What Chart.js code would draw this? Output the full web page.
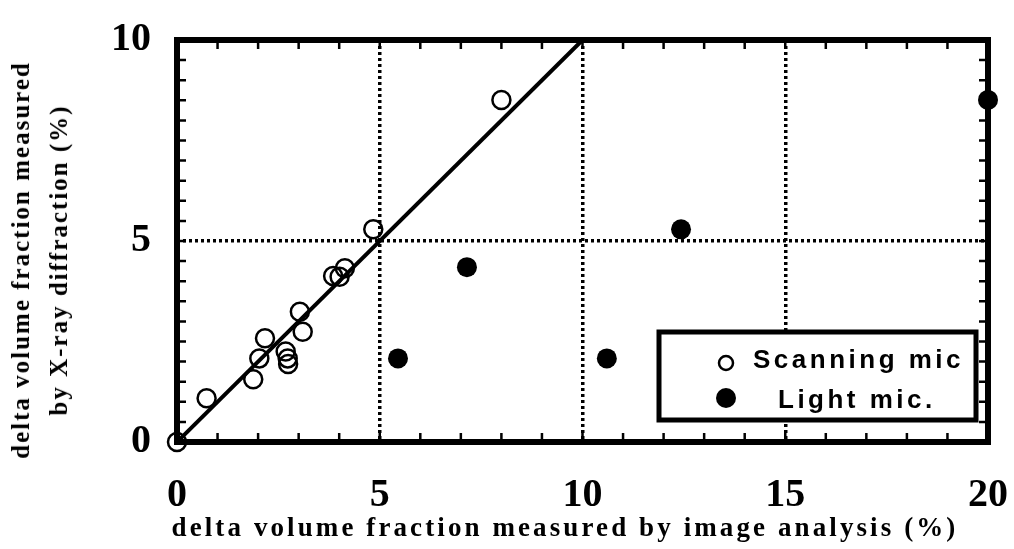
<!DOCTYPE html>
<html>
<head>
<meta charset="utf-8">
<script src="https://cdn.jsdelivr.net/npm/chart.js@4.4.0/dist/chart.umd.min.js"></script>
<style>
  html, body { margin: 0; padding: 0; background: #fff; }
  #wrap { position: relative; width: 1014px; height: 549px; }
  #chart { position: absolute; left: 0; top: 0; }
  .ttl { position: absolute; font-family: "Liberation Serif", serif; font-weight: bold; color: #000; white-space: nowrap; }
  #xTitle { left: 565px; top: 510px; transform: translateX(-50%); font-size: 27px; letter-spacing: 3.1px; line-height: 34px; }
  #yTitle { left: 40px; top: 260px; width: 0; height: 0; }
  #yTitle div { position: absolute; transform: translate(-50%, -50%) rotate(-90deg); font-size: 25px; letter-spacing: 2px; line-height: 38px; text-align: center; }
</style>
</head>
<body>
<div id="wrap">
  <canvas id="chart" width="1014" height="549"></canvas>
  <div class="ttl" id="yTitle"><div>delta volume fraction measured<br>by X-ray diffraction (%)</div></div>
  <div class="ttl" id="xTitle">delta volume fraction measured by image analysis (%)</div>
</div>
<script>
// values
var scanX = [0, 0.73, 1.88, 2.03, 2.17, 2.68, 2.73, 2.74, 3.03, 3.10, 3.85, 4.01, 4.14, 4.84, 8.0];
var scanY = [0, 1.09, 1.56, 2.08, 2.58, 2.25, 2.08, 1.94, 3.24, 2.74, 4.13, 4.11, 4.32, 5.29, 8.51];
var lightX = [5.45, 7.15, 10.6, 12.43, 20];
var lightY = [2.08, 4.35, 2.08, 5.29, 8.51];
var fitX = [0, 10];
var fitY = [0, 10];
var xTicks = [0, 5, 10, 15, 20];
var yTicks = [0, 5, 10];

function pts(xs, ys) {
    return xs.map(function (x, i) { return { x: x, y: ys[i] }; });
}

// thick frame + inward minor ticks, drawn under the markers
var framePlugin = {
    id: 'frame',
    beforeDatasetsDraw: function (chart) {
        var ctx = chart.ctx, a = chart.chartArea;
        var xs = chart.scales.x, ys = chart.scales.y;
        ctx.save();
        ctx.strokeStyle = '#000';
        ctx.lineWidth = 2.5;
        ctx.beginPath();
        for (var v = 0; v <= 10; v += 0.5) {
            var py = ys.getPixelForValue(v);
            ctx.moveTo(a.left, py); ctx.lineTo(a.left + 9, py);
            ctx.moveTo(a.right, py); ctx.lineTo(a.right - 9, py);
        }
        for (var u = 0; u <= 20; u += 1) {
            var px = xs.getPixelForValue(u);
            ctx.moveTo(px, a.bottom); ctx.lineTo(px, a.bottom - 9);
            ctx.moveTo(px, a.top); ctx.lineTo(px, a.top + 9);
        }
        ctx.stroke();
        ctx.lineWidth = 6;
        ctx.strokeRect(a.left, a.top, a.right - a.left, a.bottom - a.top);
        ctx.restore();
    },
    afterDraw: function (chart) {
        // legend box
        var ctx = chart.ctx, a = chart.chartArea;
        var bx = a.right - 329, by = a.bottom - 110, bw = 317, bh = 88;
        ctx.save();
        ctx.fillStyle = '#fff';
        ctx.fillRect(bx, by, bw, bh);
        ctx.lineWidth = 5;
        ctx.strokeStyle = '#000';
        ctx.strokeRect(bx, by, bw, bh);
        ctx.beginPath();
        ctx.lineWidth = 2.5;
        ctx.arc(bx + 67, by + 31, 7, 0, Math.PI * 2);
        ctx.stroke();
        ctx.beginPath();
        ctx.fillStyle = '#000';
        ctx.arc(bx + 67, by + 66, 10, 0, Math.PI * 2);
        ctx.fill();
        ctx.font = 'bold 26px "Liberation Sans", Arial, sans-serif';
        ctx.letterSpacing = '3.5px';
        ctx.textBaseline = 'alphabetic';
        ctx.fillText(chart.data.datasets[0].label, bx + 94, by + 36);
        ctx.fillText(chart.data.datasets[1].label, bx + 119, by + 76);
        ctx.restore();
    }
};

var gridStyle = function (ctx) {
    var v = ctx.tick ? ctx.tick.value : null;
    return (v === 0 || v === 10 && ctx.scale.id === 'y' || v === 20) ? 'rgba(0,0,0,0)' : '#000';
};

var tickFont = { family: '"Liberation Serif", serif', weight: 'bold', size: 40 };

new Chart(document.getElementById('chart'), {
    type: 'scatter',
    data: {
        datasets: [{
            label: 'Scanning mic',
            data: pts(scanX, scanY),
            pointRadius: 9,
            pointBorderWidth: 2.5,
            pointBorderColor: '#000',
            pointBackgroundColor: 'rgba(0,0,0,0)',
            clip: false
        }, {
            label: 'Light mic.',
            data: pts(lightX, lightY),
            pointRadius: 10,
            pointBorderWidth: 0,
            pointBackgroundColor: '#000',
            clip: false
        }, {
            type: 'line',
            label: 'fit',
            data: pts(fitX, fitY),
            borderColor: '#000',
            borderWidth: 4,
            pointRadius: 0,
            fill: false
        }]
    },
    options: {
        responsive: false,
        animation: false,
        layout: { padding: { left: 0, right: 26, top: 40, bottom: 0 } },
        plugins: { legend: { display: false }, tooltip: { enabled: false } },
        scales: {
            x: {
                type: 'linear', min: 0, max: 20,
                afterBuildTicks: function (s) { s.ticks = xTicks.map(function (v) { return { value: v }; }); },
                afterFit: function (s) { s.height = 107; s.paddingLeft = 0; s.paddingRight = 0; },
                border: { display: false, dash: [3, 3] },
                grid: { color: gridStyle, lineWidth: 3.5, drawTicks: false },
                ticks: { color: '#000', padding: 30, maxRotation: 0, font: tickFont }
            },
            y: {
                type: 'linear', min: 0, max: 10,
                afterBuildTicks: function (s) { s.ticks = yTicks.map(function (v) { return { value: v }; }); },
                afterFit: function (s) { s.width = 177; s.paddingTop = 0; s.paddingBottom = 0; },
                border: { display: false, dash: [3, 3] },
                grid: { color: gridStyle, lineWidth: 3.5, drawTicks: false },
                ticks: { color: '#000', padding: 26, font: tickFont }
            }
        }
    },
    plugins: [framePlugin]
});
</script>
</body>
</html>
